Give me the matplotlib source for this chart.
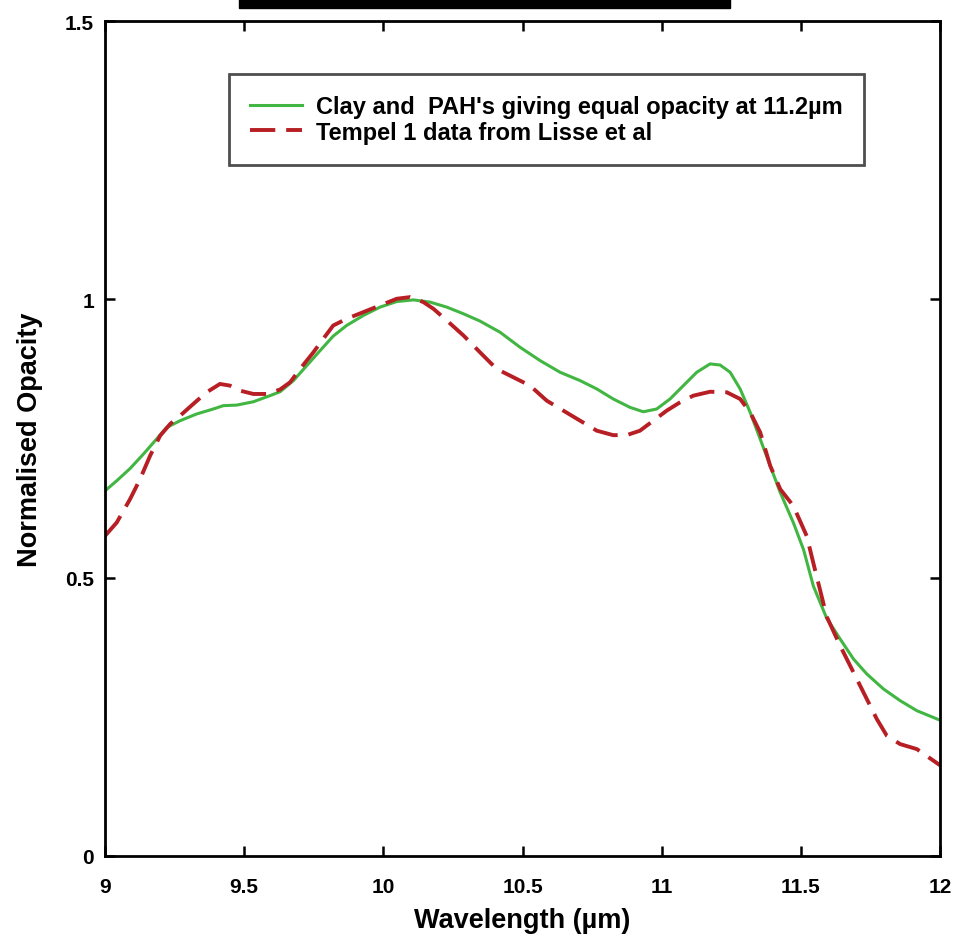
import numpy as np
import matplotlib.pyplot as plt
from matplotlib.patches import Rectangle

# Clay + PAH model (green, solid)
clay_x = [9.000, 9.042, 9.090, 9.138, 9.180, 9.222, 9.270, 9.329, 9.389, 9.425, 9.473,
          9.533, 9.593, 9.629, 9.677, 9.725, 9.773, 9.820, 9.868, 9.928, 9.988, 10.048,
          10.108, 10.168, 10.228, 10.288, 10.347, 10.419, 10.491, 10.563, 10.635, 10.707,
          10.767, 10.826, 10.886, 10.934, 10.982, 11.030, 11.078, 11.126, 11.174, 11.210,
          11.246, 11.282, 11.318, 11.354, 11.390, 11.426, 11.473, 11.510, 11.545, 11.593,
          11.641, 11.689, 11.737, 11.797, 11.857, 11.917, 12.0]
clay_y = [0.656, 0.674, 0.696, 0.722, 0.746, 0.770, 0.782, 0.794, 0.803, 0.809, 0.810,
          0.816, 0.827, 0.834, 0.854, 0.881, 0.908, 0.934, 0.953, 0.971, 0.986, 0.996,
          0.999, 0.995, 0.986, 0.974, 0.961, 0.941, 0.914, 0.890, 0.869, 0.854,
          0.839, 0.821, 0.806, 0.798, 0.803, 0.821, 0.845, 0.869, 0.884, 0.882,
          0.869, 0.839, 0.797, 0.749, 0.701, 0.653, 0.599, 0.550, 0.485, 0.427,
          0.390, 0.354, 0.327, 0.300, 0.279, 0.261, 0.244]

# Tempel 1 data (red, dashed)
tempel_x = [9.000, 9.042, 9.090, 9.126, 9.162, 9.198, 9.234, 9.270, 9.317, 9.365, 9.413,
            9.449, 9.485, 9.533, 9.581, 9.629, 9.665, 9.701, 9.749, 9.784, 9.820, 9.868,
            9.928, 9.988, 10.048, 10.096, 10.144, 10.180, 10.228, 10.288, 10.347, 10.407,
            10.467, 10.527, 10.587, 10.647, 10.707, 10.767, 10.826, 10.874, 10.922, 10.970,
            11.018, 11.066, 11.114, 11.174, 11.234, 11.282, 11.318, 11.354, 11.390, 11.426,
            11.473, 11.521, 11.550, 11.593, 11.641, 11.689, 11.737, 11.773, 11.809, 11.857,
            11.917, 12.0]
tempel_y = [0.575, 0.599, 0.641, 0.677, 0.719, 0.755, 0.776, 0.791, 0.812, 0.833, 0.848,
            0.845, 0.836, 0.830, 0.830, 0.838, 0.851, 0.875, 0.905, 0.929, 0.953, 0.965,
            0.977, 0.989, 1.001, 1.004, 0.995, 0.983, 0.962, 0.935, 0.905, 0.875,
            0.860, 0.845, 0.818, 0.800, 0.782, 0.764, 0.756, 0.756, 0.764, 0.782,
            0.800, 0.815, 0.827, 0.834, 0.833, 0.821, 0.797, 0.761, 0.701, 0.659,
            0.629, 0.575, 0.516, 0.430, 0.378, 0.330, 0.282, 0.246, 0.216, 0.201,
            0.192, 0.163]

xticks = [9, 9.5, 10, 10.5, 11, 11.5, 12]
xticklabels = ['9', '9.5', '10', '10.5', '11', '11.5', '12']
yticks = [0, 0.5, 1, 1.5]
yticklabels = ['0', '0.5', '1', '1.5']

plt.rcParams['font.family'] = ['Liberation Sans', 'DejaVu Sans']
plt.rcParams['font.weight'] = 'bold'

fig = plt.figure(figsize=(9.57, 9.37), dpi=100)
ax = fig.add_axes([105 / 957, 80 / 937, 835 / 957, 835 / 937])

ax.plot(clay_x, clay_y, color='#42b642', lw=2.2,
        label="Clay and  PAH's giving equal opacity at 11.2\u00b5m")
ax.plot(tempel_x, tempel_y, color='#b71f25', lw=2.8, dashes=(6.5, 2.8),
        label='Tempel 1 data from Lisse et al')

ax.set_xlim(9, 12)
ax.set_ylim(0, 1.5)
ax.set_xticks(xticks)
ax.set_xticklabels(xticklabels)
ax.set_yticks(yticks)
ax.set_yticklabels(yticklabels)
ax.tick_params(direction='in', top=True, right=True, length=7, width=1.8,
               labelsize=15)
ax.tick_params(axis='x', pad=15)
ax.tick_params(axis='y', pad=8)
for s in ax.spines.values():
    s.set_linewidth(2)

ax.set_xlabel('Wavelength (\u00b5m)', fontsize=19.5, fontweight='bold', labelpad=8)
ax.set_ylabel('Normalised Opacity', fontsize=19.5, fontweight='bold', labelpad=16)

leg = ax.legend(loc='upper left', bbox_to_anchor=(0.148, 0.937), borderaxespad=0,
                fancybox=False, edgecolor='#222222', fontsize=17, handlelength=2.2,
                handletextpad=0.6, borderpad=0.9, labelspacing=0.12)
leg.get_frame().set_linewidth(2)

# black strip at the top edge of the image
fig.patches.append(Rectangle((239 / 957, 1 - 9 / 937), 491 / 957, 9 / 937,
                             transform=fig.transFigure, color='black', zorder=5))

fig.savefig('out.png', dpi=100)
